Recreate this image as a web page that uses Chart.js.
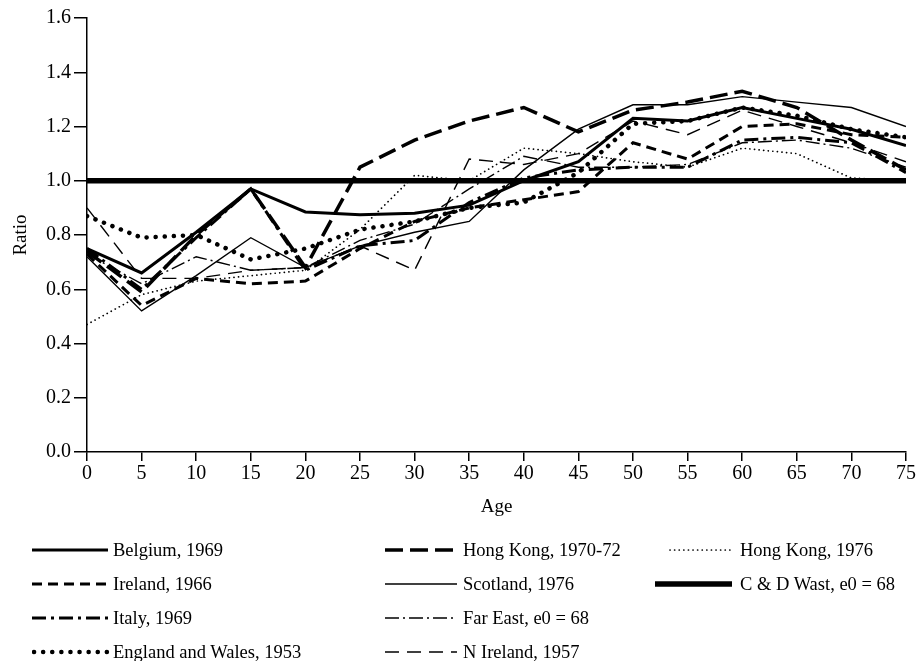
<!DOCTYPE html>
<html>
<head>
<meta charset="utf-8">
<script src="https://cdn.jsdelivr.net/npm/chart.js@4"></script>
<style>
  html, body { margin: 0; padding: 0; background: #fff; }
  #wrap { position: relative; width: 921px; height: 661px; }
  #c { position: absolute; left: 0; top: 0; }
  #legend { position: absolute; left: 0; top: 0; width: 921px; height: 661px;
            font-family: "Liberation Serif", "Times New Roman", serif; font-size: 18.5px; color: #000; }
  .item { position: absolute; height: 22px; line-height: 22px; white-space: nowrap; }
  .item svg { position: absolute; top: 0; }
  .item span { position: absolute; top: 0; }
</style>
</head>
<body>
<div id="wrap">
  <canvas id="c" width="921" height="661"></canvas>
  <div id="legend"></div>
</div>
<script>
// Age groups on the x axis
const ages = [0, 5, 10, 15, 20, 25, 30, 35, 40, 45, 50, 55, 60, 65, 70, 75];

// Ratio of observed to model mortality, by age
const belgium1969   = [0.75, 0.66, 0.81, 0.97, 0.885, 0.875, 0.88, 0.91, 1.00, 1.07, 1.23, 1.22, 1.27, 1.23, 1.19, 1.13];
const hongKong7072  = [0.74, 0.59, 0.80, 0.97, 0.68, 1.05, 1.15, 1.22, 1.27, 1.18, 1.26, 1.29, 1.33, 1.27, 1.15, 1.04];
const hongKong1976  = [0.47, 0.58, 0.63, 0.65, 0.67, 0.82, 1.02, 1.00, 1.12, 1.10, 1.07, 1.05, 1.12, 1.10, 1.01, 1.00];
const ireland1966   = [0.73, 0.54, 0.64, 0.62, 0.63, 0.75, 0.85, 0.90, 0.93, 0.96, 1.14, 1.08, 1.20, 1.21, 1.17, 1.16];
const scotland1976  = [0.72, 0.52, 0.65, 0.79, 0.68, 0.76, 0.81, 0.85, 1.04, 1.19, 1.28, 1.28, 1.31, 1.29, 1.27, 1.20];
const cdWast68      = [1.00, 1.00, 1.00, 1.00, 1.00, 1.00, 1.00, 1.00, 1.00, 1.00, 1.00, 1.00, 1.00, 1.00, 1.00, 1.00];
const italy1969     = [0.75, 0.60, 0.79, 0.97, 0.67, 0.76, 0.78, 0.92, 1.01, 1.04, 1.05, 1.05, 1.15, 1.16, 1.14, 1.03];
const farEast68     = [0.73, 0.62, 0.72, 0.67, 0.68, 0.78, 0.84, 0.97, 1.09, 1.05, 1.05, 1.06, 1.14, 1.15, 1.12, 1.05];
const englandWales1953 = [0.87, 0.79, 0.80, 0.71, 0.75, 0.82, 0.85, 0.90, 0.92, 1.03, 1.21, 1.22, 1.27, 1.24, 1.19, 1.16];
const nIreland1957  = [0.90, 0.64, 0.64, 0.67, 0.68, 0.76, 0.67, 1.08, 1.06, 1.10, 1.22, 1.17, 1.26, 1.20, 1.14, 1.07];

// Axis tick values
const yTicks = [0, 0.2, 0.4, 0.6, 0.8, 1.0, 1.2, 1.4, 1.6];
const xTicks = ages;

const FONT = '"Liberation Serif", "Times New Roman", serif';

// Line styles and legend placement for each series
const series = [
  { label: 'Belgium, 1969',            data: belgium1969,      width: 3,   dash: [],            cap: 'butt',  col: 0, row: 0 },
  { label: 'Hong Kong, 1970-72',       data: hongKong7072,     width: 3.5, dash: [18, 7],       cap: 'butt',  col: 1, row: 0 },
  { label: 'Hong Kong, 1976',          data: hongKong1976,     width: 1.7, dash: [0.1, 4.5],    cap: 'round', col: 2, row: 0 },
  { label: 'Ireland, 1966',            data: ireland1966,      width: 3,   dash: [10, 6],       cap: 'butt',  col: 0, row: 1 },
  { label: 'Scotland, 1976',           data: scotland1976,     width: 1.4, dash: [],            cap: 'butt',  col: 1, row: 1 },
  { label: 'C & D Wast, e0 = 68',      data: cdWast68,         width: 5.5, dash: [],            cap: 'butt',  col: 2, row: 1 },
  { label: 'Italy, 1969',              data: italy1969,        width: 3,   dash: [14, 5, 3, 5], cap: 'butt',  col: 0, row: 2 },
  { label: 'Far East, e0 = 68',        data: farEast68,        width: 1.4, dash: [14, 4, 2, 4], cap: 'butt',  col: 1, row: 2 },
  { label: 'England and Wales, 1953',  data: englandWales1953, width: 4.5, dash: [0.1, 9],      cap: 'round', col: 0, row: 3 },
  { label: 'N Ireland, 1957',          data: nIreland1957,     width: 1.4, dash: [14, 8],       cap: 'butt',  col: 1, row: 3 }
];

const datasets = series.map(s => ({
  label: s.label,
  data: ages.map((a, i) => ({ x: a, y: s.data[i] })),
  borderColor: '#000',
  backgroundColor: '#000',
  borderWidth: s.width,
  borderDash: s.dash,
  borderCapStyle: s.cap,
  borderJoinStyle: 'miter',
  pointRadius: 0,
  fill: false,
  tension: 0
}));

new Chart(document.getElementById('c'), {
  type: 'line',
  data: { datasets },
  options: {
    responsive: false,
    animation: false,
    devicePixelRatio: 1,
    layout: { padding: { left: 0, right: 15, top: 18, bottom: 139 } },
    plugins: { legend: { display: false }, tooltip: { enabled: false } },
    scales: {
      x: {
        type: 'linear', min: 0, max: 75,
        afterBuildTicks: s => { s.ticks = xTicks.map(v => ({ value: v })); },
        afterFit: s => { s.height = 70; },
        ticks: { color: '#000', font: { family: FONT, size: 20 }, padding: 1, maxRotation: 0, autoSkip: false },
        grid: { display: true, drawOnChartArea: false, drawTicks: true, tickLength: 9, color: '#000', lineWidth: 1.5 },
        border: { display: true, color: '#000', width: 1.5 },
        title: { display: true, text: 'Age', color: '#000', font: { family: FONT, size: 19 }, padding: { top: 0, bottom: 4 } }
      },
      y: {
        min: 0, max: 1.6,
        afterBuildTicks: s => { s.ticks = yTicks.map(v => ({ value: v })); },
        afterFit: s => { s.width = 87; },
        ticks: { color: '#000', font: { family: FONT, size: 20 }, padding: 3, callback: v => v.toFixed(1) },
        grid: { display: true, drawOnChartArea: false, drawTicks: true, tickLength: 13, color: '#000', lineWidth: 1.5 },
        border: { display: true, color: '#000', width: 1.5 },
        title: { display: true, text: 'Ratio', color: '#000', font: { family: FONT, size: 19 }, padding: { top: 10, bottom: 0 } }
      }
    }
  }
});

// Legend: three columns of line samples with their labels
const colSample = [[32, 108], [385, 457], [668, 732]];
const colText = [113, 463, 740];
const rowY = [550, 584, 618, 652];
const legend = document.getElementById('legend');
series.forEach(s => {
  const item = document.createElement('div');
  item.className = 'item';
  item.style.left = '0px';
  item.style.top = (rowY[s.row] - 11) + 'px';
  item.style.width = '921px';
  let [x0, x1] = colSample[s.col];
  if (s.label.startsWith('C & D')) x0 = 655;
  const svgNS = 'http://www.w3.org/2000/svg';
  const svg = document.createElementNS(svgNS, 'svg');
  svg.setAttribute('width', x1 - x0 + 10);
  svg.setAttribute('height', 22);
  svg.style.left = x0 + 'px';
  const ln = document.createElementNS(svgNS, 'line');
  ln.setAttribute('x1', s.cap === 'round' ? 2 : 0);
  ln.setAttribute('x2', x1 - x0);
  ln.setAttribute('y1', 11);
  ln.setAttribute('y2', 11);
  ln.setAttribute('stroke', '#000');
  ln.setAttribute('stroke-width', s.width);
  ln.setAttribute('stroke-linecap', s.cap);
  if (s.dash.length) ln.setAttribute('stroke-dasharray', s.dash.join(' '));
  svg.appendChild(ln);
  const txt = document.createElement('span');
  txt.textContent = s.label;
  txt.style.left = colText[s.col] + 'px';
  item.appendChild(svg);
  item.appendChild(txt);
  legend.appendChild(item);
});
</script>
</body>
</html>
